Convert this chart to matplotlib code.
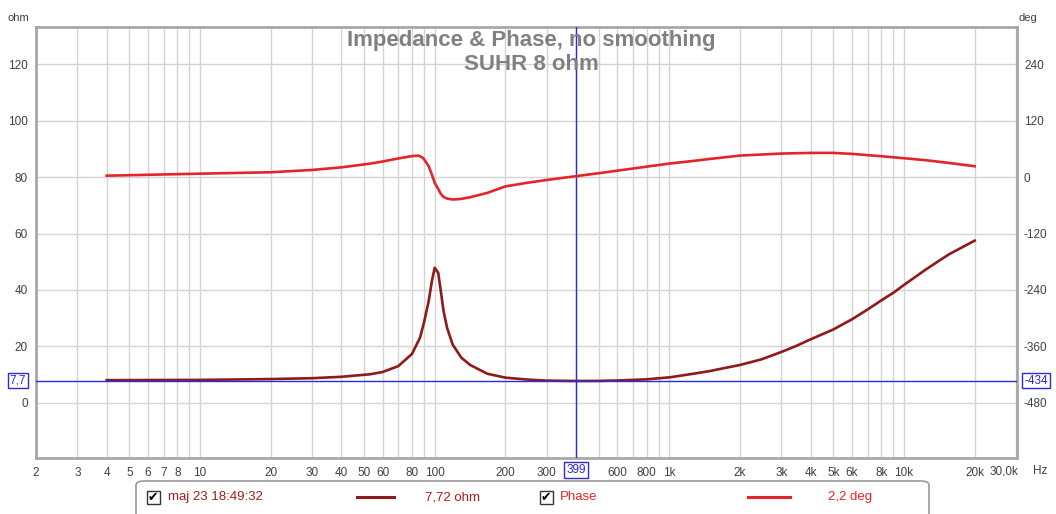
import matplotlib
matplotlib.use("Agg")
import matplotlib.pyplot as plt
from matplotlib.patches import FancyBboxPatch, Rectangle

plt.rcParams['font.family'] = ['Liberation Sans', 'DejaVu Sans']

# ---------------- data ----------------
imp_freq = [4, 10, 20, 30, 40, 53.1, 60, 70, 80, 86.6, 90, 94.3, 97.3, 100,
            103.5, 106.2, 109.1, 112.9, 119.2, 129.8, 141.6, 167.5, 200, 250, 300, 399,
            500, 600, 800, 1000, 1270, 1490, 1740, 2000, 2470, 3000, 3460, 4000, 5000,
            6000, 7000, 8000, 9000, 10000, 12400, 15500, 20000]
imp_ohm = [8.0, 8.1, 8.4, 8.7, 9.2, 10.1, 10.9, 13.0, 17.3, 23.1, 28.4, 36.1, 43.2, 47.9,
           46.1, 39.6, 32.5, 26.6, 20.7, 16.0, 13.4, 10.3, 8.9, 8.2, 7.85, 7.72,
           7.75, 7.9, 8.3, 9.0, 10.3, 11.25, 12.4, 13.4, 15.4, 18.0, 20.1, 22.5, 26.0,
           29.6, 33.1, 36.3, 39.0, 41.8, 47.3, 52.6, 57.5]

ph_freq = [4, 10, 20, 30, 40, 53.1, 60, 70, 80, 85.4, 89.3, 94.3, 97.3, 100, 103.5, 106.2,
           109.1, 112.9, 119.2, 129.8, 141.6, 167.5, 200, 250, 300, 399, 500, 600, 800,
           1000, 1270, 1490, 2000, 3000, 4000, 5000, 6000, 8000, 10000, 12400, 15500, 20000]
ph_deg = [3.3, 7.6, 10.6, 15.5, 21.0, 29.0, 33.5, 40.0, 45.0, 46.0, 41.0, 23.4, 5.7, -12.0, -24.8, -35.5,
          -41.9, -45.4, -47.5, -46.1, -42.6, -33.4, -19.5, -11.5, -5.9, 2.2, 8.5, 14.0, 22.5,
          29.1, 34.8, 39.0, 46.1, 50.4, 51.8, 51.8, 49.7, 44.7, 40.5, 36.2, 30.5, 23.4]

ohm_ticks = [0, 20, 40, 60, 80, 100, 120]
deg_ticks = [-480, -360, -240, -120, 0, 120, 240]
x_ticks = [2, 3, 4, 5, 6, 7, 8, 10, 20, 30, 40, 50, 60, 80, 100, 200, 300, 600, 800,
           1000, 2000, 3000, 4000, 5000, 6000, 8000, 10000, 20000]
x_labels = ['2', '3', '4', '5', '6', '7', '8', '10', '20', '30', '40', '50', '60', '80', '100',
            '200', '300', '600', '800', '1k', '2k', '3k', '4k', '5k', '6k', '8k', '10k', '20k']

cursor_freq = 399
cursor_ohm = 7.7
cursor_deg = -434

imp_color = '#8E1A1A'
ph_color = '#E2252B'
grid_color = '#D4D4D4'
frame_color = '#A8A8A8'
cursor_color = '#2A2AD8'
text_color = '#404040'

W, H = 1056, 514
fig = plt.figure(figsize=(W / 100, H / 100), dpi=100)
L, R, T, B = 36, 1017, 27, 457.7
ax = fig.add_axes([L / W, 1 - B / H, (R - L) / W, (B - T) / H])

ax.set_xscale('log')
ax.set_xlim(2, 30300)
ax.set_ylim(-19.5, 133.3)

# grid
grid_x = []
for dec in [1, 10, 100, 1000, 10000]:
    for m in range(1, 10):
        v = m * dec
        if 2 <= v <= 30000:
            grid_x.append(v)
for v in grid_x:
    ax.axvline(v, color=grid_color, lw=1.0, zorder=0)
for v in ohm_ticks:
    ax.axhline(v, color=grid_color, lw=1.0, zorder=0)

ax.set_xticks(x_ticks)
ax.set_xticklabels(x_labels)
ax.xaxis.set_minor_locator(matplotlib.ticker.NullLocator())
ax.set_yticks(ohm_ticks)
ax.set_yticklabels([str(v) for v in ohm_ticks])
ax.tick_params(axis='both', length=0, labelsize=8.5, colors=text_color, pad=6)
ax.tick_params(axis='x', pad=7)

for s in ax.spines.values():
    s.set_color(frame_color)
    s.set_linewidth(2)

ax2 = ax.twinx()
ax2.set_ylim((-19.5 - 80) * 6, (133.3 - 80) * 6)
ax2.set_yticks(deg_ticks)
ax2.set_yticklabels([str(v) for v in deg_ticks])
ax2.tick_params(axis='y', length=0, labelsize=8.5, colors=text_color, pad=5)
for s in ax2.spines.values():
    s.set_visible(False)

# curves
ax.plot(imp_freq, imp_ohm, color=imp_color, lw=1.9, zorder=5, solid_joinstyle='round')
ax2.plot(ph_freq, ph_deg, color=ph_color, lw=1.9, zorder=5, solid_joinstyle='round')

# cursor
ax.axvline(cursor_freq, color=cursor_color, lw=1.0, zorder=6)
ax.axhline(cursor_ohm, color=cursor_color, lw=1.0, zorder=6)

box = dict(boxstyle='square,pad=0.15', fc='white', ec=cursor_color, lw=1)
fig.text(18 / W, 1 - 380.5 / H, '7,7', color=cursor_color, fontsize=8.5, ha='center', va='center', bbox=box)
fig.text(1036 / W, 1 - 380.5 / H, str(cursor_deg), color=cursor_color, fontsize=8.5, ha='center', va='center', bbox=box)
fig.text(576 / W, 1 - 470 / H, str(cursor_freq), color=cursor_color, fontsize=8.5, ha='center', va='center', bbox=box)

# axis unit labels
fig.text(18 / W, 1 - 18 / H, 'ohm', fontsize=8, color=text_color, ha='center', va='center')
fig.text(1028 / W, 1 - 18 / H, 'deg', fontsize=8, color=text_color, ha='center', va='center')
fig.text(1004 / W, 1 - 471.5 / H, '30,0k', fontsize=8.5, color=text_color, ha='center', va='center')
fig.text(1040 / W, 1 - 471.5 / H, 'Hz', fontsize=8.5, color=text_color, ha='center', va='center')

# title
fig.text(531 / W, 1 - 41 / H, 'Impedance & Phase, no smoothing', fontsize=16, color='#808080',
         ha='center', va='center', fontweight='bold')
fig.text(531 / W, 1 - 65 / H, 'SUHR 8 ohm', fontsize=16, color='#808080',
         ha='center', va='center', fontweight='bold')

# legend box
leg = FancyBboxPatch((136 / W, 1 - 518 / H), (929 - 136) / W, (518 - 481) / H,
                     boxstyle='round,pad=0,rounding_size=0.008', transform=fig.transFigure,
                     fc='white', ec='#9A9A9A', lw=1.2)
fig.patches.append(leg)

def checkbox(xc):
    r = Rectangle(((xc - 6.5) / W, 1 - 503.5 / H), 13 / W, 13 / H, transform=fig.transFigure,
                  fc='white', ec='#333333', lw=1)
    fig.patches.append(r)
    fig.text(xc / W, 1 - 497 / H, '\u2714', fontsize=9, color='black', ha='center', va='center',
             family='DejaVu Sans')

checkbox(153)
fig.text(168 / W, 1 - 497 / H, 'maj 23 18:49:32', fontsize=9.5, color='#A81C1C', ha='left', va='center')
fig.lines.append(plt.Line2D([357 / W, 394 / W], [1 - 497 / H, 1 - 497 / H], transform=fig.transFigure,
                            color=imp_color, lw=2.2))
fig.text(425 / W, 1 - 497 / H, '7,72 ohm', fontsize=9.5, color='#A81C1C', ha='left', va='center')
checkbox(546)
fig.text(560 / W, 1 - 497 / H, 'Phase', fontsize=9.5, color=ph_color, ha='left', va='center')
fig.lines.append(plt.Line2D([748 / W, 790 / W], [1 - 497 / H, 1 - 497 / H], transform=fig.transFigure,
                            color=ph_color, lw=2.2))
fig.text(828 / W, 1 - 497 / H, '2,2 deg', fontsize=9.5, color=ph_color, ha='left', va='center')

fig.savefig('out.png', dpi=100)
